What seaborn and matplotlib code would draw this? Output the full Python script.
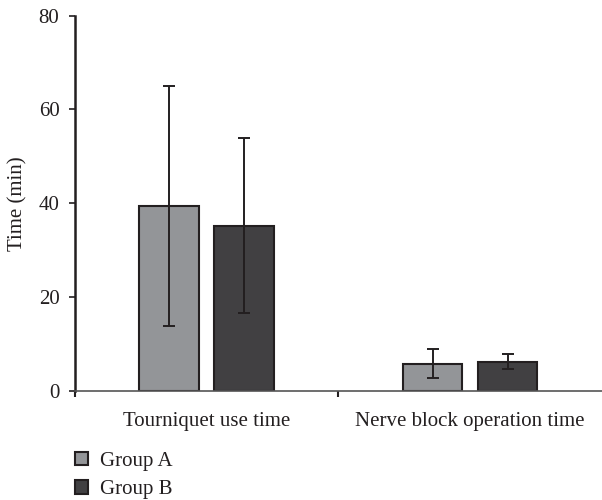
import matplotlib
matplotlib.use("Agg")
import matplotlib.pyplot as plt
from matplotlib.ticker import FixedLocator
import seaborn as sns
import pandas as pd

# Mean durations (min) and standard deviations per group
categories = ["Tourniquet use time", "Nerve block operation time"]
groups = ["Group A", "Group B"]
group_a_mean = [39.5, 5.8]
group_b_mean = [35.2, 6.2]
group_a_sd = [25.6, 3.0]
group_b_sd = [18.7, 1.6]
y_ticks = [0, 20, 40, 60, 80]

df = pd.DataFrame({
    "category": categories * 2,
    "group": [groups[0]] * 2 + [groups[1]] * 2,
    "mean": group_a_mean + group_b_mean,
    "sd": group_a_sd + group_b_sd,
})

sns.set_theme(style="white")
plt.rcParams["font.family"] = ["Liberation Serif", "DejaVu Serif"]
fs = 15

ink = "#231f20"
palette = {"Group A": "#939598", "Group B": "#414042"}

fig = plt.figure(figsize=(6.02, 5.0), dpi=100)
ax = fig.add_axes([74.7 / 602, 1 - 390.7 / 500, 1 - 74.7 / 602, (390.7 - 15.7) / 500])

sns.barplot(data=df, x="category", y="mean", hue="group", order=categories,
            hue_order=groups, palette=palette, width=0.57, gap=0.21,
            edgecolor=ink, linewidth=1.5, saturation=1, errorbar=None,
            legend=True, ax=ax)

# Error bars centred on each drawn bar
bar_patches = list(ax.containers[0]) + list(ax.containers[1])
sds = group_a_sd + group_b_sd
means = group_a_mean + group_b_mean
for p, m, s in zip(bar_patches, means, sds):
    cx = p.get_x() + p.get_width() / 2
    ax.errorbar(cx, m, yerr=s, color=ink, elinewidth=1.4, capsize=4.5,
                capthick=1.4, fmt="none", zorder=5)

ax.set_xlim(-0.5, 1.5)
ax.set_ylim(0, 80)
ax.set_yticks(y_ticks)
ax.set_xlabel("")
ax.set_ylabel("Time (min)", fontsize=fs, color=ink, labelpad=8)

for side in ["top", "right"]:
    ax.spines[side].set_visible(False)
ax.spines["left"].set_color(ink)
ax.spines["left"].set_linewidth(1.8)
ax.spines["bottom"].set_color("#555555")
ax.spines["bottom"].set_linewidth(1.2)

ax.xaxis.set_minor_locator(FixedLocator([-0.5, 0.5]))
ax.tick_params(axis="x", which="major", length=0, pad=15, labelsize=fs,
               labelcolor=ink)
ax.tick_params(axis="x", which="minor", bottom=True, length=4.5, width=1.5,
               color=ink)
ax.tick_params(axis="y", left=True, length=4, width=1.2, color=ink, pad=7,
               labelsize=fs, labelcolor=ink)

handles, labels = ax.get_legend_handles_labels()
ax.get_legend().remove()
fig.legend(handles, labels, loc="upper left",
           bbox_to_anchor=(75 / 602, 1 - 452 / 500), frameon=False,
           borderpad=0, borderaxespad=0, handlelength=0.6, handleheight=0.6,
           handletextpad=0.6, labelspacing=0.45, fontsize=fs,
           labelcolor=ink)

fig.savefig("out.png", dpi=100)
